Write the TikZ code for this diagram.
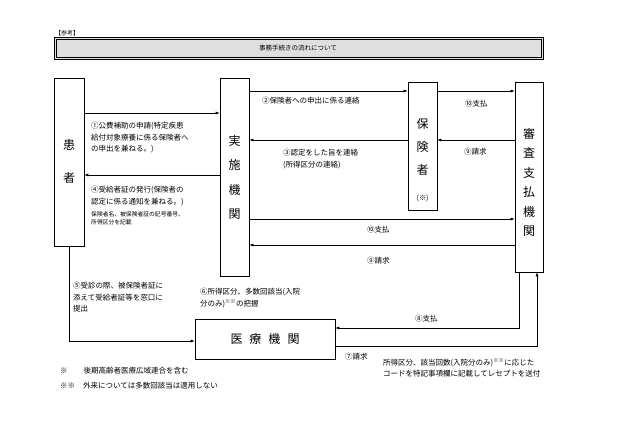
\documentclass[tikz,border=0pt]{standalone}
\usepackage{fontspec}
\setmainfont{Noto Sans CJK JP}
\usetikzlibrary{arrows.meta}
\tikzset{
  box/.style={draw, line width=.6pt, inner sep=0pt},
  arr/.style={draw, line width=.5pt, -{Latex[length=4pt,width=3pt]}},
  lbl/.style={anchor=north west, inner sep=0pt, align=left, font=\fontsize{7.5}{11.5}\selectfont},
  tiny/.style={anchor=north west, inner sep=0pt, align=left, font=\fontsize{5.8}{8}\selectfont},
  vch/.style={font=\fontsize{12}{12}\selectfont}
}
\begin{document}
\begin{tikzpicture}[x=1pt,y=-1pt]
\useasboundingbox (0,0) rectangle (630,441);
%title
\node[lbl, font=\fontsize{6}{6}\selectfont] (sanko) at (55,30) {【参考】};
\draw[fill=gray!25, line width=.8pt] (54,37) rectangle (543,59);
\draw[line width=.4pt] (56,39) rectangle (541,57);
\node[font=\fontsize{6.5}{6.5}\selectfont] (title) at (298,48) {事務手続きの流れについて};

%boxes
\node[box, minimum width=30pt, minimum height=168pt] (kanja)   at (69,162) {};
\node[box, minimum width=29pt, minimum height=198pt] (jisshi)  at (234.5,177) {};
\node[box, minimum width=29pt, minimum height=128pt] (hoken)   at (422.5,146) {};
\node[box, minimum width=28pt, minimum height=190pt] (shinsa)  at (529,177) {};
\node[box, minimum width=140pt, minimum height=40pt] (iryo)    at (265,339) {};

\node[vch] at (69,145) {患};
\node[vch] at (69,178) {者};
\foreach \c [count=\i] in {実,施,機,関}
  \node[vch] at (234.5,116+24.5*\i) {\c};
\foreach \c [count=\i] in {保,険,者}
  \node[vch] at (422.5,101+23*\i) {\c};
\node[font=\fontsize{7}{7}\selectfont] at (422.5,198) {(※)};
\foreach \c [count=\i] in {審,査,支,払,機,関}
  \node[vch] at (529,114+19.5*\i) {\c};
\node[font=\fontsize{12}{12}\selectfont] at (265,339) {医\hspace{7pt}療\hspace{7pt}機\hspace{7pt}関};

%connectors
\draw[arr] (kanja.east |- 0,113) -- (jisshi.west |- 0,113);
\draw[arr] (jisshi.west |- 0,175) -- (kanja.east |- 0,175);
\draw[arr] (jisshi.east |- 0,91) -- (hoken.west |- 0,91);
\draw[arr] (hoken.west |- 0,140) -- (jisshi.east |- 0,140);
\draw[arr] (hoken.east |- 0,91) -- (shinsa.west |- 0,91);
\draw[arr] (shinsa.west |- 0,140) -- (hoken.east |- 0,140);
\draw[arr] (jisshi.east |- 0,219) -- (shinsa.west |- 0,219);
\draw[arr] (shinsa.west |- 0,245) -- (jisshi.east |- 0,245);
\draw[arr] (kanja.south) |- (iryo.west |- 0,341);
\draw[arr] (shinsa.south -| 519,0) |- (iryo.east |- 0,328);
\draw[arr] (iryo.east |- 0,346) -| (shinsa.south -| 537,0);

%labels
\node[lbl] (l1) at (91,122) {①公費補助の申請(特定疾患\\給付対象療養に係る保険者へ\\の申出を兼ねる。)};
\node[lbl] (l4) at (91,186) {④受給者証の発行(保険者の\\認定に係る通知を兼ねる。)};
\node[tiny] (l4b) at (91,211) {保険者名、被保険者証の記号番号、\\所得区分を記載};
\node[lbl] (l2) at (262,97) {②保険者への申出に係る連絡};
\node[lbl] (l3) at (283,149) {③認定をした旨を連絡\\(所得区分の連絡)};
\node[lbl] (l10a) at (465,100) {⑩支払};
\node[lbl] (l9a) at (464,148) {⑨請求};
\node[lbl] (l10b) at (367,226) {⑩支払};
\node[lbl] (l9b) at (367,257) {⑨請求};
\node[lbl] (l5) at (73,282) {⑤受診の際、被保険者証に\\添えて受給者証等を窓口に\\提出};
\node[lbl] (l6) at (200,288) {⑥所得区分、多数回該当(入院\\分のみ)\textsuperscript{※※}の把握};
\node[lbl] (l8) at (415,315) {⑧支払};
\node[lbl] (l7) at (345,353) {⑦請求};
\node[lbl] (lr) at (383,358) {所得区分、該当回数(入院分のみ)\textsuperscript{※※}に応じた\\コードを特記事項欄に記載してレセプトを送付};
\node[lbl] (f1) at (60,367) {※\hspace{16pt}後期高齢者医療広域連合を含む};
\node[lbl] (f2) at (60,382) {※※\hspace{8pt}外来については多数回該当は適用しない};
\end{tikzpicture}
\end{document}
